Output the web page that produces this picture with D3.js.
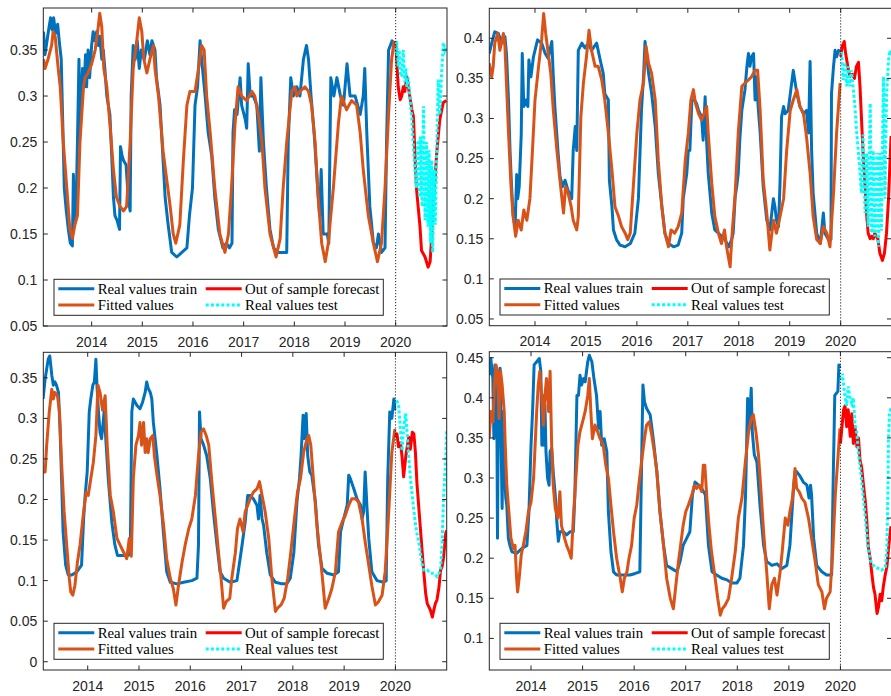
<!DOCTYPE html>
<html>
<head>
<meta charset="utf-8">
<script src="https://cdn.jsdelivr.net/npm/d3@7"></script>
<style>
  body { margin: 0; background: #fff; }
  svg { display: block; }
</style>
</head>
<body>
<div id="chart"></div>
<script>
// ---- data (decimal year, value) ----
const yearTicks = [2014, 2015, 2016, 2017, 2018, 2019, 2020]
const splitYear = 2020
const legendLabels = ["Real values train", "Out of sample forecast", "Fitted values", "Real values test"]

const yTicksA = [0.05, 0.1, 0.15, 0.2, 0.25, 0.3, 0.35]
const yTicksB = [0.05, 0.1, 0.15, 0.2, 0.25, 0.3, 0.35, 0.4]
const yTicksC = [0, 0.05, 0.1, 0.15, 0.2, 0.25, 0.3, 0.35]
const yTicksD = [0.1, 0.15, 0.2, 0.25, 0.3, 0.35, 0.4, 0.45]

const trainA = [[2013.05,0.37],[2013.08,0.345],[2013.12,0.36],[2013.16,0.375],[2013.19,0.385],[2013.22,0.372],[2013.25,0.385],[2013.29,0.368],[2013.33,0.378],[2013.36,0.36],[2013.40,0.34],[2013.43,0.27],[2013.46,0.2],[2013.50,0.175],[2013.54,0.155],[2013.58,0.14],[2013.62,0.137],[2013.64,0.215],[2013.66,0.165],[2013.69,0.17],[2013.72,0.25],[2013.75,0.34],[2013.77,0.26],[2013.79,0.29],[2013.82,0.33],[2013.85,0.31],[2013.88,0.345],[2013.90,0.31],[2013.93,0.35],[2013.96,0.32],[2014.0,0.355],[2014.03,0.37],[2014.06,0.36],[2014.10,0.37],[2014.13,0.355],[2014.16,0.365],[2014.20,0.34],[2014.23,0.35],[2014.26,0.33],[2014.30,0.3],[2014.36,0.28],[2014.40,0.23],[2014.43,0.19],[2014.46,0.17],[2014.50,0.165],[2014.55,0.155],[2014.57,0.245],[2014.60,0.235],[2014.63,0.23],[2014.68,0.225],[2014.72,0.19],[2014.76,0.175],[2014.78,0.3],[2014.82,0.355],[2014.86,0.34],[2014.90,0.36],[2014.94,0.33],[2014.98,0.35],[2015.04,0.34],[2015.10,0.36],[2015.15,0.345],[2015.19,0.36],[2015.25,0.35],[2015.28,0.32],[2015.35,0.29],[2015.40,0.24],[2015.45,0.19],[2015.51,0.16],[2015.58,0.13],[2015.68,0.125],[2015.78,0.13],[2015.88,0.135],[2015.93,0.17],[2015.99,0.2],[2016.04,0.29],[2016.09,0.31],[2016.14,0.36],[2016.17,0.34],[2016.24,0.3],[2016.30,0.26],[2016.37,0.235],[2016.43,0.19],[2016.50,0.155],[2016.59,0.135],[2016.66,0.14],[2016.72,0.135],[2016.77,0.14],[2016.79,0.26],[2016.82,0.285],[2016.87,0.28],[2016.93,0.32],[2016.96,0.29],[2017.03,0.275],[2017.06,0.265],[2017.09,0.335],[2017.13,0.3],[2017.19,0.3],[2017.26,0.29],[2017.31,0.24],[2017.34,0.32],[2017.39,0.25],[2017.45,0.2],[2017.52,0.155],[2017.59,0.135],[2017.68,0.13],[2017.78,0.13],[2017.85,0.13],[2017.88,0.25],[2017.93,0.32],[2017.98,0.3],[2018.05,0.31],[2018.11,0.3],[2018.18,0.34],[2018.24,0.355],[2018.28,0.34],[2018.33,0.3],[2018.39,0.26],[2018.46,0.2],[2018.50,0.17],[2018.53,0.22],[2018.57,0.15],[2018.65,0.15],[2018.68,0.14],[2018.72,0.32],[2018.78,0.3],[2018.84,0.32],[2018.91,0.3],[2018.97,0.29],[2019.04,0.335],[2019.10,0.3],[2019.20,0.3],[2019.30,0.28],[2019.36,0.3],[2019.39,0.33],[2019.43,0.26],[2019.49,0.18],[2019.56,0.14],[2019.62,0.135],[2019.66,0.15],[2019.72,0.13],[2019.79,0.135],[2019.82,0.25],[2019.86,0.35],[2019.93,0.36],[2019.99,0.355]]
const fitA = [[2013.05,0.34],[2013.08,0.33],[2013.14,0.34],[2013.21,0.355],[2013.24,0.37],[2013.28,0.365],[2013.34,0.33],[2013.38,0.31],[2013.44,0.25],[2013.51,0.2],[2013.57,0.155],[2013.62,0.145],[2013.67,0.16],[2013.72,0.17],[2013.77,0.25],[2013.84,0.31],[2013.87,0.32],[2013.93,0.325],[2014.0,0.335],[2014.07,0.35],[2014.13,0.375],[2014.16,0.39],[2014.20,0.375],[2014.24,0.33],[2014.30,0.31],[2014.36,0.27],[2014.43,0.22],[2014.49,0.19],[2014.56,0.18],[2014.63,0.175],[2014.69,0.18],[2014.76,0.25],[2014.82,0.33],[2014.89,0.36],[2014.94,0.385],[2014.99,0.37],[2015.03,0.34],[2015.09,0.325],[2015.15,0.34],[2015.22,0.355],[2015.25,0.33],[2015.32,0.3],[2015.41,0.24],[2015.48,0.21],[2015.55,0.18],[2015.61,0.15],[2015.66,0.14],[2015.74,0.16],[2015.81,0.23],[2015.88,0.29],[2015.94,0.305],[2016.04,0.305],[2016.11,0.33],[2016.17,0.355],[2016.22,0.35],[2016.27,0.3],[2016.34,0.26],[2016.43,0.2],[2016.53,0.15],[2016.63,0.13],[2016.70,0.15],[2016.76,0.2],[2016.83,0.27],[2016.89,0.31],[2016.96,0.3],[2017.06,0.295],[2017.16,0.305],[2017.22,0.3],[2017.29,0.28],[2017.36,0.25],[2017.42,0.2],[2017.52,0.15],[2017.64,0.125],[2017.72,0.145],[2017.78,0.2],[2017.85,0.25],[2017.95,0.305],[2018.01,0.31],[2018.05,0.3],[2018.11,0.305],[2018.21,0.31],[2018.28,0.305],[2018.34,0.29],[2018.41,0.25],[2018.47,0.19],[2018.54,0.14],[2018.61,0.12],[2018.67,0.14],[2018.77,0.2],[2018.87,0.27],[2018.93,0.3],[2019.03,0.285],[2019.13,0.295],[2019.23,0.29],[2019.30,0.26],[2019.36,0.22],[2019.46,0.17],[2019.56,0.14],[2019.64,0.12],[2019.72,0.14],[2019.79,0.2],[2019.86,0.28],[2019.92,0.34],[2019.97,0.36]]
const forecastA = [[2020.0,0.36],[2020.05,0.31],[2020.09,0.296],[2020.12,0.3],[2020.15,0.31],[2020.18,0.305],[2020.22,0.321],[2020.25,0.31],[2020.32,0.285],[2020.35,0.278],[2020.38,0.238],[2020.41,0.2],[2020.45,0.176],[2020.48,0.158],[2020.51,0.132],[2020.58,0.125],[2020.64,0.114],[2020.68,0.12],[2020.71,0.147],[2020.74,0.18],[2020.78,0.212],[2020.81,0.238],[2020.84,0.256],[2020.87,0.274],[2020.91,0.285],[2020.94,0.293],[2021.0,0.295]]
const testA = [[2020.01,0.345],[2020.02,0.36],[2020.05,0.332],[2020.07,0.35],[2020.09,0.325],[2020.12,0.321],[2020.15,0.35],[2020.18,0.315],[2020.20,0.33],[2020.22,0.31],[2020.25,0.32],[2020.28,0.3],[2020.32,0.274],[2020.35,0.245],[2020.38,0.22],[2020.41,0.2],[2020.44,0.252],[2020.47,0.19],[2020.49,0.256],[2020.52,0.18],[2020.55,0.289],[2020.58,0.165],[2020.61,0.25],[2020.64,0.158],[2020.66,0.241],[2020.69,0.14],[2020.71,0.23],[2020.73,0.13],[2020.76,0.22],[2020.78,0.16],[2020.81,0.238],[2020.84,0.318],[2020.87,0.28],[2020.91,0.328],[2020.94,0.358],[2020.97,0.35],[2021.0,0.355]]

const trainB = [[2013.10,0.381],[2013.15,0.394],[2013.21,0.408],[2013.28,0.406],[2013.35,0.394],[2013.41,0.402],[2013.44,0.381],[2013.48,0.323],[2013.51,0.26],[2013.54,0.215],[2013.57,0.18],[2013.61,0.165],[2013.64,0.23],[2013.66,0.2],[2013.69,0.215],[2013.73,0.28],[2013.75,0.381],[2013.78,0.315],[2013.82,0.323],[2013.86,0.315],[2013.88,0.373],[2013.92,0.352],[2013.97,0.377],[2014.0,0.385],[2014.05,0.398],[2014.13,0.394],[2014.2,0.381],[2014.26,0.375],[2014.33,0.396],[2014.36,0.352],[2014.39,0.315],[2014.45,0.26],[2014.49,0.228],[2014.54,0.215],[2014.59,0.223],[2014.65,0.21],[2014.72,0.2],[2014.75,0.26],[2014.79,0.29],[2014.82,0.26],[2014.85,0.385],[2014.92,0.394],[2014.98,0.388],[2015.05,0.394],[2015.11,0.385],[2015.21,0.394],[2015.28,0.373],[2015.34,0.356],[2015.37,0.331],[2015.44,0.323],[2015.46,0.223],[2015.51,0.19],[2015.54,0.161],[2015.6,0.149],[2015.67,0.142],[2015.77,0.14],[2015.87,0.144],[2015.96,0.157],[2016.03,0.2],[2016.09,0.31],[2016.13,0.352],[2016.16,0.396],[2016.23,0.356],[2016.29,0.331],[2016.36,0.29],[2016.42,0.232],[2016.49,0.19],[2016.55,0.157],[2016.62,0.144],[2016.72,0.14],[2016.81,0.142],[2016.88,0.157],[2016.91,0.2],[2016.98,0.232],[2017.01,0.26],[2017.04,0.26],[2017.08,0.323],[2017.13,0.323],[2017.17,0.319],[2017.21,0.31],[2017.27,0.302],[2017.3,0.273],[2017.34,0.327],[2017.37,0.27],[2017.4,0.232],[2017.47,0.182],[2017.53,0.161],[2017.6,0.157],[2017.66,0.153],[2017.73,0.149],[2017.8,0.14],[2017.86,0.149],[2017.89,0.157],[2017.93,0.203],[2017.96,0.215],[2017.99,0.232],[2018.02,0.273],[2018.06,0.31],[2018.09,0.323],[2018.12,0.335],[2018.16,0.365],[2018.19,0.381],[2018.22,0.365],[2018.25,0.377],[2018.29,0.381],[2018.32,0.323],[2018.35,0.352],[2018.38,0.315],[2018.42,0.282],[2018.48,0.215],[2018.55,0.173],[2018.61,0.161],[2018.68,0.2],[2018.71,0.19],[2018.74,0.173],[2018.78,0.165],[2018.81,0.22],[2018.84,0.302],[2018.88,0.315],[2018.91,0.306],[2018.97,0.31],[2019.07,0.36],[2019.14,0.331],[2019.2,0.315],[2019.27,0.306],[2019.33,0.31],[2019.37,0.282],[2019.4,0.371],[2019.43,0.26],[2019.46,0.207],[2019.53,0.157],[2019.6,0.144],[2019.66,0.182],[2019.69,0.157],[2019.76,0.149],[2019.81,0.149],[2019.82,0.331],[2019.86,0.365],[2019.89,0.385],[2019.92,0.377],[2019.96,0.385],[2019.99,0.383]]
const fitB = [[2013.10,0.369],[2013.15,0.352],[2013.18,0.365],[2013.21,0.394],[2013.27,0.406],[2013.31,0.385],[2013.38,0.406],[2013.41,0.39],[2013.48,0.282],[2013.53,0.215],[2013.57,0.178],[2013.62,0.153],[2013.67,0.173],[2013.73,0.161],[2013.78,0.186],[2013.84,0.173],[2013.9,0.2],[2013.95,0.26],[2014.0,0.323],[2014.07,0.365],[2014.13,0.398],[2014.17,0.431],[2014.21,0.406],[2014.26,0.381],[2014.31,0.356],[2014.36,0.31],[2014.43,0.26],[2014.49,0.223],[2014.56,0.182],[2014.6,0.215],[2014.65,0.207],[2014.71,0.19],[2014.75,0.173],[2014.82,0.161],[2014.85,0.178],[2014.9,0.302],[2014.95,0.344],[2015.01,0.377],[2015.06,0.41],[2015.11,0.385],[2015.18,0.365],[2015.24,0.365],[2015.31,0.348],[2015.37,0.323],[2015.44,0.282],[2015.51,0.236],[2015.57,0.19],[2015.64,0.178],[2015.7,0.165],[2015.77,0.157],[2015.82,0.149],[2015.87,0.157],[2015.93,0.215],[2016.0,0.282],[2016.06,0.323],[2016.13,0.344],[2016.18,0.39],[2016.23,0.369],[2016.29,0.356],[2016.36,0.323],[2016.42,0.248],[2016.49,0.19],[2016.55,0.157],[2016.62,0.14],[2016.67,0.161],[2016.74,0.157],[2016.81,0.165],[2016.88,0.182],[2016.95,0.248],[2017.01,0.282],[2017.06,0.323],[2017.11,0.336],[2017.15,0.319],[2017.21,0.306],[2017.27,0.298],[2017.37,0.315],[2017.4,0.282],[2017.47,0.219],[2017.53,0.178],[2017.6,0.157],[2017.66,0.144],[2017.72,0.161],[2017.76,0.14],[2017.83,0.115],[2017.87,0.157],[2017.93,0.207],[2017.99,0.282],[2018.06,0.34],[2018.12,0.344],[2018.19,0.348],[2018.25,0.352],[2018.32,0.36],[2018.37,0.36],[2018.42,0.31],[2018.48,0.223],[2018.55,0.182],[2018.61,0.136],[2018.68,0.173],[2018.74,0.157],[2018.81,0.178],[2018.88,0.2],[2018.94,0.26],[2019.01,0.31],[2019.07,0.323],[2019.14,0.336],[2019.2,0.315],[2019.27,0.306],[2019.33,0.277],[2019.4,0.232],[2019.46,0.178],[2019.53,0.149],[2019.6,0.144],[2019.66,0.165],[2019.73,0.157],[2019.79,0.14],[2019.86,0.207],[2019.92,0.282],[2019.99,0.344]]
const forecastB = [[2020.0,0.377],[2020.03,0.39],[2020.07,0.396],[2020.1,0.38],[2020.14,0.365],[2020.18,0.352],[2020.23,0.355],[2020.27,0.35],[2020.31,0.365],[2020.35,0.37],[2020.38,0.34],[2020.41,0.298],[2020.44,0.257],[2020.48,0.215],[2020.51,0.18],[2020.54,0.157],[2020.58,0.15],[2020.61,0.153],[2020.64,0.15],[2020.67,0.157],[2020.73,0.15],[2020.77,0.132],[2020.82,0.123],[2020.86,0.132],[2020.9,0.157],[2020.94,0.2],[2020.97,0.248],[2020.99,0.278]]
const testB = [[2020.02,0.383],[2020.05,0.348],[2020.08,0.37],[2020.12,0.34],[2020.15,0.365],[2020.18,0.34],[2020.21,0.36],[2020.25,0.336],[2020.28,0.315],[2020.31,0.286],[2020.35,0.257],[2020.38,0.232],[2020.41,0.207],[2020.44,0.28],[2020.48,0.182],[2020.51,0.257],[2020.54,0.165],[2020.58,0.319],[2020.61,0.157],[2020.64,0.26],[2020.67,0.153],[2020.71,0.257],[2020.74,0.14],[2020.77,0.257],[2020.8,0.16],[2020.84,0.352],[2020.87,0.2],[2020.9,0.327],[2020.94,0.373],[2020.97,0.385],[2020.99,0.38]]

const trainC = [[2013.13,0.324],[2013.17,0.349],[2013.2,0.361],[2013.23,0.373],[2013.26,0.377],[2013.3,0.353],[2013.33,0.341],[2013.36,0.345],[2013.39,0.341],[2013.43,0.332],[2013.46,0.287],[2013.49,0.226],[2013.52,0.16],[2013.57,0.119],[2013.62,0.107],[2013.69,0.107],[2013.79,0.111],[2013.88,0.119],[2013.92,0.176],[2013.95,0.205],[2013.99,0.234],[2014.03,0.308],[2014.06,0.324],[2014.1,0.341],[2014.13,0.345],[2014.16,0.373],[2014.18,0.341],[2014.21,0.308],[2014.24,0.283],[2014.27,0.275],[2014.32,0.308],[2014.36,0.267],[2014.4,0.226],[2014.47,0.172],[2014.53,0.144],[2014.58,0.131],[2014.7,0.131],[2014.79,0.131],[2014.83,0.135],[2014.86,0.308],[2014.89,0.324],[2014.96,0.316],[2015.02,0.312],[2015.07,0.32],[2015.12,0.332],[2015.15,0.345],[2015.18,0.337],[2015.22,0.332],[2015.25,0.324],[2015.28,0.295],[2015.35,0.254],[2015.41,0.213],[2015.48,0.156],[2015.54,0.111],[2015.61,0.098],[2015.74,0.096],[2015.87,0.098],[2016.03,0.1],[2016.13,0.103],[2016.16,0.144],[2016.18,0.308],[2016.21,0.275],[2016.26,0.267],[2016.32,0.254],[2016.39,0.226],[2016.45,0.185],[2016.52,0.144],[2016.58,0.111],[2016.65,0.103],[2016.78,0.098],[2016.91,0.1],[2017.01,0.144],[2017.07,0.172],[2017.12,0.205],[2017.17,0.205],[2017.23,0.201],[2017.3,0.193],[2017.33,0.176],[2017.36,0.205],[2017.4,0.176],[2017.43,0.168],[2017.49,0.135],[2017.56,0.107],[2017.66,0.098],[2017.79,0.096],[2017.88,0.096],[2017.95,0.103],[2018.02,0.135],[2018.08,0.197],[2018.13,0.226],[2018.16,0.254],[2018.2,0.304],[2018.22,0.275],[2018.26,0.306],[2018.29,0.254],[2018.33,0.234],[2018.37,0.23],[2018.44,0.197],[2018.5,0.144],[2018.57,0.115],[2018.67,0.109],[2018.8,0.107],[2018.89,0.111],[2018.93,0.16],[2018.99,0.176],[2019.06,0.193],[2019.09,0.23],[2019.12,0.226],[2019.19,0.213],[2019.25,0.201],[2019.32,0.193],[2019.35,0.176],[2019.38,0.185],[2019.41,0.234],[2019.45,0.185],[2019.48,0.152],[2019.54,0.111],[2019.64,0.1],[2019.77,0.098],[2019.82,0.1],[2019.85,0.226],[2019.89,0.308],[2019.93,0.3],[2019.97,0.324],[2019.99,0.31]]
const fitC = [[2013.13,0.234],[2013.17,0.234],[2013.2,0.267],[2013.25,0.308],[2013.3,0.336],[2013.33,0.324],[2013.36,0.332],[2013.41,0.328],[2013.45,0.308],[2013.49,0.246],[2013.54,0.185],[2013.59,0.144],[2013.64,0.103],[2013.67,0.086],[2013.71,0.082],[2013.75,0.094],[2013.8,0.123],[2013.85,0.144],[2013.92,0.185],[2013.97,0.209],[2014.01,0.205],[2014.06,0.226],[2014.11,0.246],[2014.16,0.279],[2014.2,0.341],[2014.24,0.332],[2014.29,0.31],[2014.34,0.328],[2014.38,0.267],[2014.44,0.205],[2014.5,0.185],[2014.57,0.152],[2014.63,0.144],[2014.7,0.135],[2014.76,0.127],[2014.81,0.152],[2014.85,0.13],[2014.89,0.226],[2014.94,0.267],[2014.99,0.279],[2015.02,0.295],[2015.05,0.267],[2015.09,0.295],[2015.12,0.258],[2015.15,0.275],[2015.18,0.258],[2015.22,0.275],[2015.27,0.279],[2015.3,0.254],[2015.35,0.23],[2015.41,0.205],[2015.48,0.168],[2015.54,0.127],[2015.61,0.103],[2015.67,0.09],[2015.72,0.07],[2015.77,0.094],[2015.84,0.123],[2015.9,0.144],[2015.97,0.164],[2016.03,0.176],[2016.1,0.205],[2016.16,0.254],[2016.21,0.283],[2016.26,0.287],[2016.31,0.279],[2016.36,0.267],[2016.42,0.222],[2016.49,0.176],[2016.55,0.135],[2016.6,0.103],[2016.65,0.066],[2016.7,0.074],[2016.77,0.078],[2016.81,0.103],[2016.88,0.135],[2016.92,0.164],[2016.97,0.176],[2017.03,0.16],[2017.07,0.185],[2017.12,0.193],[2017.17,0.201],[2017.23,0.209],[2017.3,0.213],[2017.35,0.222],[2017.4,0.205],[2017.46,0.185],[2017.53,0.152],[2017.59,0.103],[2017.66,0.062],[2017.7,0.066],[2017.77,0.07],[2017.83,0.078],[2017.9,0.103],[2017.96,0.135],[2018.03,0.176],[2018.09,0.209],[2018.15,0.226],[2018.21,0.258],[2018.26,0.271],[2018.31,0.279],[2018.35,0.267],[2018.41,0.217],[2018.47,0.168],[2018.54,0.127],[2018.59,0.094],[2018.63,0.066],[2018.7,0.078],[2018.76,0.09],[2018.83,0.111],[2018.89,0.16],[2018.96,0.172],[2019.02,0.18],[2019.09,0.193],[2019.15,0.201],[2019.22,0.201],[2019.28,0.197],[2019.35,0.176],[2019.41,0.148],[2019.48,0.119],[2019.54,0.094],[2019.61,0.07],[2019.67,0.074],[2019.74,0.082],[2019.8,0.111],[2019.87,0.185],[2019.93,0.258],[2019.99,0.287]]
const forecastC = [[2020.0,0.277],[2020.03,0.281],[2020.06,0.265],[2020.1,0.27],[2020.13,0.252],[2020.16,0.228],[2020.2,0.252],[2020.23,0.265],[2020.26,0.277],[2020.29,0.262],[2020.33,0.283],[2020.36,0.281],[2020.39,0.258],[2020.42,0.22],[2020.46,0.187],[2020.49,0.162],[2020.52,0.137],[2020.55,0.113],[2020.59,0.084],[2020.62,0.072],[2020.68,0.064],[2020.72,0.055],[2020.75,0.064],[2020.78,0.072],[2020.81,0.076],[2020.85,0.092],[2020.88,0.113],[2020.91,0.117],[2020.94,0.129],[2020.98,0.158],[2021.0,0.162]]
const testC = [[2020.02,0.322],[2020.06,0.318],[2020.1,0.285],[2020.13,0.26],[2020.16,0.289],[2020.2,0.306],[2020.23,0.28],[2020.26,0.252],[2020.29,0.228],[2020.33,0.203],[2020.36,0.187],[2020.39,0.17],[2020.42,0.158],[2020.46,0.146],[2020.49,0.133],[2020.52,0.121],[2020.55,0.113],[2020.62,0.113],[2020.68,0.109],[2020.75,0.109],[2020.81,0.105],[2020.88,0.113],[2020.91,0.146],[2020.94,0.203],[2020.98,0.248],[2021.0,0.285]]

const trainD = [[2013.19,0.428],[2013.22,0.449],[2013.26,0.424],[2013.28,0.349],[2013.3,0.441],[2013.32,0.383],[2013.34,0.349],[2013.35,0.225],[2013.37,0.424],[2013.4,0.437],[2013.42,0.341],[2013.44,0.262],[2013.46,0.383],[2013.48,0.32],[2013.51,0.275],[2013.53,0.266],[2013.56,0.225],[2013.59,0.216],[2013.63,0.208],[2013.72,0.206],[2013.82,0.212],[2013.92,0.216],[2013.96,0.258],[2014.0,0.341],[2014.03,0.383],[2014.06,0.441],[2014.11,0.445],[2014.16,0.449],[2014.19,0.433],[2014.21,0.341],[2014.23,0.403],[2014.25,0.341],[2014.27,0.391],[2014.29,0.333],[2014.32,0.3],[2014.35,0.291],[2014.37,0.333],[2014.4,0.337],[2014.43,0.308],[2014.47,0.279],[2014.5,0.246],[2014.53,0.221],[2014.56,0.233],[2014.63,0.233],[2014.69,0.229],[2014.76,0.233],[2014.82,0.233],[2014.85,0.279],[2014.89,0.403],[2014.92,0.403],[2014.95,0.428],[2014.98,0.416],[2015.02,0.424],[2015.05,0.42],[2015.1,0.445],[2015.13,0.453],[2015.18,0.445],[2015.22,0.424],[2015.27,0.403],[2015.31,0.362],[2015.34,0.383],[2015.37,0.341],[2015.42,0.349],[2015.47,0.333],[2015.5,0.258],[2015.55,0.208],[2015.6,0.183],[2015.66,0.179],[2015.79,0.179],[2015.92,0.179],[2016.02,0.181],[2016.11,0.183],[2016.15,0.341],[2016.17,0.416],[2016.2,0.395],[2016.24,0.387],[2016.31,0.379],[2016.37,0.349],[2016.44,0.308],[2016.5,0.258],[2016.57,0.216],[2016.63,0.191],[2016.73,0.187],[2016.83,0.183],[2016.89,0.196],[2016.95,0.216],[2017.02,0.225],[2017.08,0.233],[2017.13,0.279],[2017.18,0.295],[2017.25,0.291],[2017.31,0.287],[2017.38,0.279],[2017.44,0.216],[2017.51,0.183],[2017.6,0.179],[2017.7,0.175],[2017.8,0.173],[2017.89,0.169],[2017.99,0.169],[2018.05,0.175],[2018.12,0.216],[2018.16,0.279],[2018.2,0.399],[2018.23,0.362],[2018.27,0.412],[2018.29,0.358],[2018.33,0.329],[2018.38,0.32],[2018.44,0.266],[2018.51,0.216],[2018.57,0.196],[2018.67,0.191],[2018.77,0.193],[2018.86,0.187],[2018.96,0.191],[2019.02,0.216],[2019.09,0.287],[2019.12,0.308],[2019.15,0.308],[2019.22,0.302],[2019.28,0.295],[2019.35,0.291],[2019.39,0.275],[2019.42,0.291],[2019.44,0.279],[2019.48,0.225],[2019.54,0.191],[2019.64,0.183],[2019.73,0.179],[2019.83,0.179],[2019.86,0.3],[2019.89,0.403],[2019.95,0.408],[2019.97,0.441],[2019.99,0.437]]
const fitD = [[2013.19,0.349],[2013.22,0.383],[2013.26,0.37],[2013.29,0.416],[2013.32,0.441],[2013.35,0.433],[2013.38,0.374],[2013.41,0.433],[2013.44,0.416],[2013.48,0.383],[2013.5,0.341],[2013.53,0.291],[2013.57,0.258],[2013.61,0.225],[2013.66,0.212],[2013.69,0.216],[2013.72,0.175],[2013.74,0.158],[2013.77,0.175],[2013.81,0.204],[2013.85,0.216],[2013.9,0.233],[2013.95,0.258],[2014.0,0.27],[2014.05,0.3],[2014.08,0.341],[2014.11,0.383],[2014.14,0.416],[2014.17,0.433],[2014.21,0.399],[2014.24,0.366],[2014.27,0.403],[2014.3,0.424],[2014.34,0.383],[2014.37,0.433],[2014.4,0.341],[2014.43,0.291],[2014.47,0.262],[2014.52,0.25],[2014.56,0.283],[2014.59,0.241],[2014.65,0.225],[2014.69,0.216],[2014.74,0.208],[2014.78,0.2],[2014.82,0.25],[2014.87,0.3],[2014.91,0.341],[2014.95,0.358],[2015.0,0.37],[2015.05,0.383],[2015.1,0.403],[2015.13,0.424],[2015.16,0.383],[2015.19,0.349],[2015.24,0.366],[2015.29,0.358],[2015.34,0.349],[2015.4,0.341],[2015.45,0.316],[2015.5,0.3],[2015.55,0.266],[2015.6,0.233],[2015.66,0.2],[2015.73,0.175],[2015.77,0.158],[2015.81,0.175],[2015.86,0.183],[2015.9,0.2],[2015.95,0.216],[2016.0,0.25],[2016.05,0.266],[2016.09,0.291],[2016.15,0.324],[2016.2,0.349],[2016.24,0.366],[2016.29,0.37],[2016.34,0.354],[2016.39,0.333],[2016.44,0.308],[2016.5,0.258],[2016.57,0.216],[2016.63,0.175],[2016.7,0.15],[2016.76,0.137],[2016.81,0.167],[2016.86,0.196],[2016.9,0.216],[2016.95,0.241],[2017.0,0.258],[2017.05,0.266],[2017.12,0.279],[2017.17,0.291],[2017.21,0.287],[2017.26,0.291],[2017.31,0.283],[2017.34,0.316],[2017.37,0.316],[2017.41,0.275],[2017.45,0.241],[2017.5,0.208],[2017.57,0.175],[2017.62,0.15],[2017.67,0.129],[2017.71,0.137],[2017.76,0.141],[2017.83,0.15],[2017.89,0.175],[2017.96,0.208],[2018.02,0.25],[2018.09,0.275],[2018.15,0.316],[2018.22,0.358],[2018.27,0.374],[2018.31,0.379],[2018.36,0.358],[2018.41,0.329],[2018.46,0.283],[2018.51,0.233],[2018.57,0.183],[2018.62,0.137],[2018.67,0.167],[2018.72,0.175],[2018.77,0.154],[2018.83,0.183],[2018.87,0.208],[2018.93,0.25],[2018.98,0.241],[2019.02,0.258],[2019.07,0.275],[2019.12,0.312],[2019.15,0.287],[2019.2,0.283],[2019.25,0.275],[2019.31,0.27],[2019.38,0.25],[2019.44,0.225],[2019.51,0.196],[2019.57,0.167],[2019.64,0.158],[2019.69,0.137],[2019.73,0.15],[2019.8,0.158],[2019.85,0.208],[2019.9,0.279],[2019.95,0.324],[2019.99,0.362]]
const forecastD = [[2020.0,0.343],[2020.03,0.364],[2020.06,0.385],[2020.09,0.39],[2020.12,0.364],[2020.15,0.385],[2020.19,0.352],[2020.22,0.38],[2020.25,0.343],[2020.28,0.364],[2020.32,0.339],[2020.35,0.35],[2020.38,0.322],[2020.41,0.314],[2020.45,0.289],[2020.48,0.272],[2020.51,0.248],[2020.54,0.214],[2020.58,0.198],[2020.61,0.18],[2020.64,0.164],[2020.67,0.155],[2020.71,0.131],[2020.74,0.14],[2020.77,0.155],[2020.8,0.147],[2020.83,0.164],[2020.87,0.18],[2020.9,0.189],[2020.93,0.21],[2020.96,0.23],[2020.98,0.24]]
const testD = [[2020.01,0.422],[2020.04,0.43],[2020.08,0.405],[2020.12,0.39],[2020.15,0.414],[2020.19,0.398],[2020.22,0.393],[2020.25,0.4],[2020.28,0.368],[2020.32,0.355],[2020.35,0.331],[2020.38,0.315],[2020.41,0.298],[2020.45,0.272],[2020.48,0.252],[2020.51,0.231],[2020.54,0.21],[2020.58,0.198],[2020.61,0.193],[2020.67,0.189],[2020.74,0.187],[2020.8,0.185],[2020.87,0.189],[2020.9,0.21],[2020.92,0.281],[2020.93,0.343],[2020.95,0.38],[2020.97,0.385],[2021.0,0.385]]

// ---- layout ----
const panels = [
    { train: trainA, fit: fitA, forecast: forecastA, test: testA, yTicks: yTicksA,
      left: 43.3, right: 447, top: 8, bottom: 326, xDomain: [2013.046, 2021.013], yDomain: [0.05, 0.3957] },
    { train: trainB, fit: fitB, forecast: forecastB, test: testB, yTicks: yTicksB,
      left: 489.3, right: 891.5, top: 8.3, bottom: 325.7, xDomain: [2013.103, 2020.998], yDomain: [0.0416, 0.4374] },
    { train: trainC, fit: fitC, forecast: forecastC, test: testC, yTicks: yTicksC,
      left: 43.3, right: 446.7, top: 352.3, bottom: 670, xDomain: [2013.134, 2021.0], yDomain: [-0.0102, 0.3815] },
    { train: trainD, fit: fitD, forecast: forecastD, test: testD, yTicks: yTicksD,
      left: 489.3, right: 891.5, top: 351.7, bottom: 670, xDomain: [2013.191, 2020.99], yDomain: [0.0606, 0.4575] }
]

const colors = { train: "#0072BD", fit: "#D95319", forecast: "#FF0000", test: "#00FFFF" }
const axisColor = "#262626"
const tickLen = 4.5

const svg = d3.select("#chart").append("svg")
    .attr("width", 891)
    .attr("height", 696)

panels.forEach((p, i) => {
    const x = d3.scaleLinear().domain(p.xDomain).range([p.left, p.right])
    const y = d3.scaleLinear().domain(p.yDomain).range([p.bottom, p.top])
    const g = svg.append("g")

    g.append("clipPath").attr("id", "clip" + i)
        .append("rect")
        .attr("x", p.left).attr("y", p.top)
        .attr("width", p.right - p.left).attr("height", p.bottom - p.top)

    const line = d3.line().x(d => x(d[0])).y(d => y(d[1]))
    const plot = g.append("g").attr("clip-path", `url(#clip${i})`)

    // series, same stacking as the original figure
    plot.append("path").datum(p.train)
        .attr("d", line).attr("fill", "none")
        .attr("stroke", colors.train).attr("stroke-width", 3)
        .attr("stroke-linejoin", "round")
    plot.append("path").datum(p.fit)
        .attr("d", line).attr("fill", "none")
        .attr("stroke", colors.fit).attr("stroke-width", 3)
        .attr("stroke-linejoin", "round")
    plot.append("path").datum(p.forecast)
        .attr("d", line).attr("fill", "none")
        .attr("stroke", colors.forecast).attr("stroke-width", 3)
        .attr("stroke-linejoin", "round")
    plot.append("path").datum(p.test)
        .attr("d", line).attr("fill", "none")
        .attr("stroke", colors.test).attr("stroke-width", 3)
        .attr("stroke-dasharray", "3,2.2")

    // train/test split
    g.append("line")
        .attr("x1", x(splitYear)).attr("x2", x(splitYear))
        .attr("y1", p.top).attr("y2", p.bottom)
        .attr("stroke", "#222").attr("stroke-width", 1)
        .attr("stroke-dasharray", "1.2,1.8")

    // box + inward ticks on all sides
    g.append("rect")
        .attr("x", p.left).attr("y", p.top)
        .attr("width", p.right - p.left).attr("height", p.bottom - p.top)
        .attr("fill", "none").attr("stroke", axisColor).attr("stroke-width", 1)

    const ticks = g.append("g").attr("stroke", axisColor).attr("stroke-width", 1)
    yearTicks.forEach(t => {
        ticks.append("line").attr("x1", x(t)).attr("x2", x(t)).attr("y1", p.bottom).attr("y2", p.bottom - tickLen)
        ticks.append("line").attr("x1", x(t)).attr("x2", x(t)).attr("y1", p.top).attr("y2", p.top + tickLen)
    })
    p.yTicks.forEach(t => {
        ticks.append("line").attr("x1", p.left).attr("x2", p.left + tickLen).attr("y1", y(t)).attr("y2", y(t))
        ticks.append("line").attr("x1", p.right).attr("x2", p.right - tickLen).attr("y1", y(t)).attr("y2", y(t))
    })

    g.selectAll(".xlab").data(yearTicks).enter().append("text")
        .attr("x", d => x(d)).attr("y", p.bottom + 20.5)
        .attr("text-anchor", "middle")
        .attr("font-family", "'Liberation Sans', Arial, sans-serif").attr("font-size", 14)
        .attr("fill", axisColor)
        .text(d => d)
    g.selectAll(".ylab").data(p.yTicks).enter().append("text")
        .attr("x", p.left - 6).attr("y", d => y(d)).attr("dy", "0.35em")
        .attr("text-anchor", "end")
        .attr("font-family", "'Liberation Sans', Arial, sans-serif").attr("font-size", 14)
        .attr("fill", axisColor)
        .text(d => d3.format("~g")(d))

    // legend, two columns
    const lg = g.append("g").attr("transform", `translate(${p.left + 10.7},${p.bottom - 46.7})`)
    lg.append("rect").attr("width", 329.3).attr("height", 36)
        .attr("fill", "#fff").attr("stroke", axisColor).attr("stroke-width", 1)
    const items = [
        { key: "train", col: 0, row: 0 }, { key: "forecast", col: 1, row: 0 },
        { key: "fit", col: 0, row: 1 }, { key: "test", col: 1, row: 1 }
    ]
    items.forEach((it, k) => {
        const x0 = it.col ? 151.7 : 4.3
        const yy = it.row ? 25.7 : 9.4
        lg.append("line").attr("x1", x0).attr("x2", x0 + 36).attr("y1", yy).attr("y2", yy)
            .attr("stroke", colors[it.key]).attr("stroke-width", 3)
            .attr("stroke-dasharray", it.key == "test" ? "3,2.2" : null)
        lg.append("text").attr("x", x0 + 39.4).attr("y", yy + 5)
            .attr("font-family", "'Liberation Serif', 'Times New Roman', serif").attr("font-size", 14.8)
            .attr("fill", "#000")
            .text(legendLabels[k])
    })
})
</script>
</body>
</html>
